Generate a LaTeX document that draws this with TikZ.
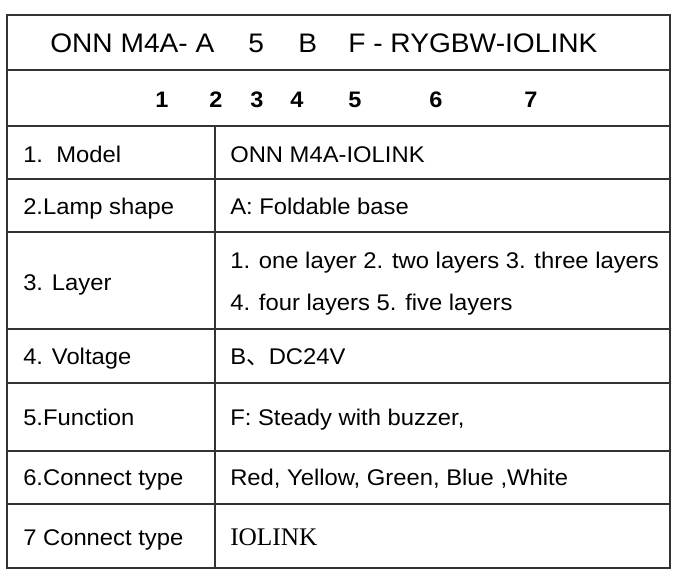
\documentclass[tikz,border=0pt]{standalone}
\usepackage{fontspec}
\setmainfont{Liberation Sans}[FakeStretch=1.05]
\newfontfamily\serifio{Liberation Serif}
\newfontfamily\cjk{Noto Sans CJK SC}
\usepackage{tikz}
\tikzset{
	cell/.style={anchor=base west, inner sep=0pt, font=\fontsize{17}{20}\selectfont},
	head/.style={anchor=base west, inner sep=0pt, font=\fontsize{20.1}{24}\selectfont},
	num/.style={anchor=base, inner sep=0pt, font=\fontsize{16.8}{20}\selectfont\bfseries}
}
\begin{document}
\begin{tikzpicture}[x=0.75pt, y=-0.75pt]
			%%%%% START %%%%%
			\useasboundingbox (0, 0) rectangle (687, 583);
			
			\draw[line width=1.2pt, color=black!80] (7, 15) rectangle (670, 568);
			\foreach \y in {70, 126, 179, 232, 329, 383, 451, 504}
				\draw[line width=1.2pt, color=black!80] (7, \y) -- (670, \y);
			\draw[line width=1.2pt, color=black!80] (215, 126) -- (215, 568);
			
			\node[head] (code1) at (50, 52) {ONN M4A- A};
			\node[head] (code2) at (248, 52) {5};
			\node[head] (code3) at (298, 52) {B};
			\node[head] (code4) at (348, 52) {F - RYGBW-IOLINK};
			
			\foreach \n/\x in {1/162, 2/216, 3/257, 4/297, 5/355, 6/436, 7/531}
				\node[num] (num\n) at (\x, 107) {\n};
			
			\node[cell] (model) at (23, 162) {1.\ \ Model};
			\node[cell] (shape) at (23, 214) {2.Lamp shape};
			\node[cell] (layer) at (23, 290) {3. Layer};
			\node[cell] (volt) at (23, 364) {4. Voltage};
			\node[cell] (func) at (23, 425) {5.Function};
			\node[cell] (conn6) at (23, 485) {6.Connect type};
			\node[cell] (conn7) at (23, 545) {7 Connect type};
			
			\node[cell] (modelv) at (230, 162) {ONN M4A-IOLINK};
			\node[cell] (shapev) at (230, 214) {A: Foldable base};
			\node[cell] (layerv1) at (230, 268) {1. one layer 2. two layers 3. three layers};
			\node[cell] (layerv2) at (230, 310) {4. four layers 5. five layers};
			\node[cell] (voltv) at (230, 364) {B{\cjk 、}DC24V};
			\node[cell] (funcv) at (230, 425) {F: Steady with buzzer,};
			\node[cell] (conn6v) at (230, 485) {Red, Yellow, Green, Blue ,White};
			\node[cell, font=\fontsize{19}{23}\selectfont\serifio] (conn7v) at (230, 545) {IOLINK};
			
			%%%%% END %%%%%
\end{tikzpicture}
\end{document}
